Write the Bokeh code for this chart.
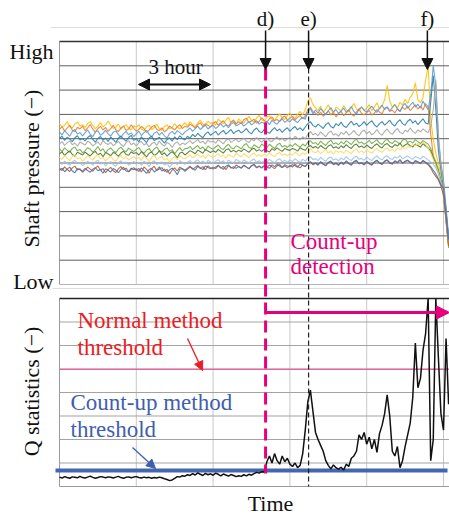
import numpy as np
from bokeh.plotting import figure
from bokeh.models import Range1d, Arrow, NormalHead, Label
from bokeh.embed import file_html
from bokeh.resources import INLINE

# ---------------- data ----------------
HOUR_TICKS = [0, 3, 6, 9, 12, 15]          # vertical grid, 3-hour spacing
PRESSURE_LEVELS = list(range(0, 11))       # Low (0) .. High (10)
Q_LEVELS = list(range(0, 9))
P_STEP = 0.1                                # hours between pressure samples
Q_STEP = 0.1                                # hours between Q samples
EVENT_D = 8.05                              # count-up detection
EVENT_E = 9.73
EVENT_F = 14.37
NORMAL_THRESHOLD = 4.98
COUNTUP_THRESHOLD = 0.68

PRESSURE_A = [6.62, 6.48, 6.55, 6.71, 6.50, 6.44, 6.60, 6.68, 6.52, 6.58,
              6.46, 6.63, 6.70, 6.55, 6.41, 6.52, 6.66, 6.49, 6.57, 6.73,
              6.55, 6.42, 6.48, 6.61, 6.39, 6.50, 6.58, 6.44, 6.36, 6.53,
              6.47, 6.58, 6.40, 6.33, 6.49, 6.56, 6.38, 6.45, 6.60, 6.42,
              6.35, 6.50, 6.57, 6.41, 6.46, 6.62, 6.48, 6.39, 6.55, 6.66,
              6.52, 6.70, 6.58, 6.49, 6.65, 6.77, 6.60, 6.54, 6.72, 6.63,
              6.68, 6.55, 6.80, 6.71, 6.62, 6.76, 6.88, 6.66, 6.74, 6.59,
              6.82, 6.70, 6.64, 6.79, 6.92, 6.75, 6.68, 6.85, 6.97, 6.78,
              6.72, 6.88, 6.95, 6.80, 6.74, 6.91, 7.02, 6.85, 6.79, 6.96,
              7.05, 6.90, 6.84, 7.00, 7.12, 6.98, 7.20, 7.55, 7.68, 7.40,
              7.28, 7.15, 7.34, 7.08, 7.22, 7.40, 7.18, 7.05, 7.30, 7.24,
              7.12, 7.36, 7.20, 7.10, 7.28, 7.45, 7.22, 7.14, 7.32, 7.18,
              7.26, 7.40, 7.15, 7.30, 7.48, 7.22, 7.35, 7.60, 8.20, 7.55,
              7.30, 7.42, 7.25, 7.50, 7.38, 7.62, 7.45, 7.70, 7.85, 8.30,
              7.60, 7.48, 7.70, 8.40, 9.00, 6.80, 6.00, 5.40, 5.00, 4.50,
              3.90, 2.90, 1.80]
PRESSURE_B = [6.38, 6.50, 6.31, 6.44, 6.56, 6.35, 6.28, 6.47, 6.40, 6.52,
              6.33, 6.45, 6.58, 6.39, 6.27, 6.42, 6.51, 6.36, 6.46, 6.30,
              6.41, 6.55, 6.37, 6.29, 6.44, 6.52, 6.34, 6.40, 6.57, 6.43,
              6.31, 6.38, 6.50, 6.42, 6.26, 6.35, 6.48, 6.55, 6.39, 6.33,
              6.45, 6.28, 6.37, 6.52, 6.44, 6.36, 6.49, 6.58, 6.42, 6.51,
              6.47, 6.60, 6.53, 6.44, 6.58, 6.66, 6.50, 6.62, 6.55, 6.48,
              6.63, 6.71, 6.56, 6.65, 6.74, 6.59, 6.52, 6.68, 6.77, 6.61,
              6.70, 6.62, 6.78, 6.84, 6.66, 6.73, 6.80, 6.64, 6.71, 6.86,
              6.75, 6.68, 6.82, 6.90, 6.74, 6.79, 6.70, 6.87, 6.93, 6.77,
              6.84, 6.92, 6.78, 6.88, 6.96, 6.82, 6.94, 7.20, 7.30, 7.12,
              7.05, 6.96, 7.10, 6.92, 7.02, 7.15, 6.98, 7.08, 6.90, 7.04,
              7.12, 6.95, 7.06, 7.18, 7.00, 6.93, 7.10, 7.22, 7.04, 6.98,
              7.08, 7.16, 6.97, 7.05, 7.20, 7.10, 7.02, 7.25, 7.30, 7.12,
              7.18, 7.06, 7.24, 7.12, 7.30, 7.20, 7.35, 7.15, 7.28, 7.40,
              7.22, 7.34, 7.18, 7.45, 7.30, 6.20, 5.30, 4.90, 4.60, 4.20,
              3.60, 2.60, 1.60]
PRESSURE_C = [6.28, 6.15, 6.33, 6.22, 6.10, 6.30, 6.38, 6.19, 6.25, 6.12,
              6.24, 6.36, 6.18, 6.08, 6.27, 6.33, 6.14, 6.22, 6.35, 6.20,
              6.11, 6.26, 6.32, 6.17, 6.05, 6.21, 6.30, 6.16, 6.24, 6.09,
              6.20, 6.31, 6.13, 6.25, 6.34, 6.18, 6.07, 6.23, 6.29, 6.15,
              6.26, 6.12, 6.02, 6.22, 6.30, 6.19, 6.33, 6.25, 6.16, 6.28,
              6.35, 6.44, 6.30, 6.41, 6.52, 6.38, 6.47, 6.56, 6.40, 6.49,
              6.55, 6.42, 6.51, 6.62, 6.48, 6.58, 6.45, 6.60, 6.67, 6.53,
              6.58, 6.66, 6.52, 6.61, 6.70, 6.57, 6.64, 6.74, 6.60, 6.68,
              6.63, 6.72, 6.58, 6.76, 6.66, 6.60, 6.73, 6.81, 6.67, 6.75,
              6.70, 6.82, 6.74, 6.66, 6.79, 6.88, 6.80, 7.10, 7.25, 7.02,
              7.18, 7.05, 7.24, 7.12, 6.98, 7.15, 7.28, 7.10, 7.20, 7.04,
              7.14, 7.26, 7.08, 7.20, 7.32, 7.12, 7.02, 7.22, 7.30, 7.16,
              7.10, 7.24, 7.34, 7.18, 7.08, 7.26, 7.38, 7.20, 7.30, 7.15,
              7.28, 7.40, 7.22, 7.12, 7.34, 7.45, 7.25, 7.38, 7.50, 7.30,
              7.42, 7.26, 7.55, 7.35, 7.20, 7.80, 9.00, 8.20, 6.00, 5.00,
              4.30, 3.20, 2.00]
PRESSURE_D = [6.02, 6.10, 5.93, 6.06, 5.98, 5.88, 6.04, 6.12, 5.95, 6.00,
              5.91, 6.05, 6.13, 5.97, 5.86, 6.01, 6.09, 5.94, 6.03, 5.89,
              6.07, 5.96, 5.85, 6.02, 6.11, 5.99, 5.90, 6.05, 6.14, 5.93,
              6.00, 5.87, 6.08, 5.95, 5.84, 6.03, 6.10, 5.92, 5.99, 6.06,
              5.94, 5.82, 5.97, 6.04, 5.90, 6.08, 5.96, 6.12, 6.01, 5.95,
              6.10, 6.02, 6.18, 6.08, 6.22, 6.12, 6.04, 6.20, 6.28, 6.14,
              6.22, 6.30, 6.15, 6.26, 6.34, 6.19, 6.28, 6.38, 6.21, 6.30,
              6.35, 6.24, 6.31, 6.42, 6.27, 6.20, 6.36, 6.44, 6.30, 6.25,
              6.38, 6.29, 6.22, 6.35, 6.46, 6.32, 6.40, 6.26, 6.37, 6.45,
              6.30, 6.42, 6.50, 6.36, 6.45, 6.33, 6.48, 6.62, 6.70, 6.55,
              6.48, 6.60, 6.52, 6.42, 6.58, 6.66, 6.50, 6.44, 6.62, 6.54,
              6.68, 6.52, 6.46, 6.60, 6.72, 6.56, 6.64, 6.50, 6.58, 6.70,
              6.55, 6.66, 6.74, 6.58, 6.48, 6.62, 6.70, 6.56, 6.65, 6.76,
              6.60, 6.52, 6.68, 6.78, 6.62, 6.55, 6.72, 6.80, 6.64, 6.74,
              6.58, 6.70, 6.82, 6.65, 6.60, 7.50, 8.60, 7.20, 5.50, 4.70,
              4.00, 3.00, 1.90]
PRESSURE_E = [5.78, 5.88, 5.72, 5.84, 5.91, 5.75, 5.82, 5.69, 5.86, 5.80,
              5.74, 5.90, 5.83, 5.70, 5.79, 5.87, 5.73, 5.93, 5.81, 5.76,
              5.85, 5.71, 5.80, 5.89, 5.77, 5.68, 5.84, 5.92, 5.75, 5.82,
              5.70, 5.83, 5.88, 5.74, 5.81, 5.66, 5.79, 5.86, 5.72, 5.90,
              5.77, 5.69, 5.85, 5.78, 5.64, 5.80, 5.87, 5.73, 5.82, 5.76,
              5.84, 5.92, 5.80, 5.88, 5.97, 5.83, 5.90, 5.78, 5.94, 5.86,
              5.91, 5.82, 5.96, 5.88, 5.79, 5.93, 6.00, 5.85, 5.92, 5.98,
              5.87, 5.95, 6.02, 5.90, 5.84, 5.98, 5.91, 6.05, 5.93, 5.86,
              5.96, 6.04, 5.92, 5.88, 6.00, 6.08, 5.94, 6.02, 5.90, 5.99,
              6.05, 5.95, 6.10, 6.02, 5.96, 6.08, 6.00, 6.18, 6.30, 6.16,
              6.22, 6.12, 6.28, 6.18, 6.08, 6.24, 6.32, 6.15, 6.20, 6.10,
              6.26, 6.18, 6.30, 6.14, 6.22, 6.34, 6.20, 6.12, 6.28, 6.36,
              6.20, 6.30, 6.16, 6.24, 6.38, 6.22, 6.14, 6.30, 6.40, 6.25,
              6.18, 6.32, 6.42, 6.26, 6.20, 6.35, 6.28, 6.44, 6.30, 6.22,
              6.36, 6.28, 6.40, 6.32, 6.25, 6.50, 7.20, 8.40, 6.20, 4.90,
              4.20, 3.00, 1.70]
PRESSURE_F = [5.58, 5.47, 5.62, 5.53, 5.44, 5.60, 5.66, 5.50, 5.56, 5.42,
              5.51, 5.63, 5.57, 5.45, 5.54, 5.68, 5.49, 5.59, 5.41, 5.55,
              5.62, 5.50, 5.43, 5.57, 5.65, 5.52, 5.46, 5.61, 5.54, 5.48,
              5.56, 5.64, 5.49, 5.40, 5.53, 5.60, 5.45, 5.58, 5.66, 5.51,
              5.44, 5.57, 5.62, 5.48, 5.55, 5.38, 5.52, 5.63, 5.50, 5.59,
              5.60, 5.68, 5.55, 5.64, 5.72, 5.58, 5.66, 5.52, 5.70, 5.62,
              5.57, 5.66, 5.74, 5.61, 5.55, 5.69, 5.77, 5.63, 5.58, 5.71,
              5.66, 5.58, 5.73, 5.80, 5.64, 5.60, 5.75, 5.68, 5.62, 5.78,
              5.70, 5.63, 5.77, 5.68, 5.59, 5.74, 5.82, 5.66, 5.72, 5.64,
              5.75, 5.68, 5.80, 5.72, 5.65, 5.78, 5.70, 5.86, 5.92, 5.80,
              5.84, 5.74, 5.90, 5.80, 5.72, 5.86, 5.94, 5.78, 5.83, 5.75,
              5.88, 5.79, 5.92, 5.84, 5.76, 5.90, 5.98, 5.82, 5.86, 5.77,
              5.84, 5.93, 5.80, 5.88, 5.96, 5.82, 5.76, 5.90, 5.98, 5.85,
              5.80, 5.92, 5.86, 5.78, 5.94, 6.00, 5.84, 5.90, 5.82, 5.96,
              5.88, 5.80, 5.92, 5.85, 5.78, 5.60, 5.30, 5.05, 4.75, 4.30,
              3.70, 2.60, 1.50]
PRESSURE_G = [5.38, 5.46, 5.31, 5.42, 5.50, 5.35, 5.28, 5.44, 5.39, 5.33,
              5.45, 5.36, 5.29, 5.41, 5.48, 5.34, 5.40, 5.26, 5.43, 5.37,
              5.30, 5.44, 5.38, 5.27, 5.41, 5.49, 5.35, 5.32, 5.46, 5.39,
              5.43, 5.33, 5.47, 5.36, 5.25, 5.40, 5.45, 5.31, 5.38, 5.50,
              5.34, 5.42, 5.28, 5.39, 5.47, 5.36, 5.22, 5.41, 5.44, 5.33,
              5.42, 5.51, 5.45, 5.38, 5.53, 5.47, 5.40, 5.55, 5.49, 5.43,
              5.50, 5.44, 5.56, 5.48, 5.41, 5.54, 5.59, 5.46, 5.52, 5.45,
              5.53, 5.47, 5.58, 5.51, 5.44, 5.56, 5.61, 5.49, 5.55, 5.48,
              5.57, 5.50, 5.45, 5.59, 5.52, 5.62, 5.54, 5.48, 5.60, 5.55,
              5.52, 5.60, 5.56, 5.49, 5.63, 5.57, 5.52, 5.66, 5.72, 5.62,
              5.68, 5.60, 5.72, 5.64, 5.57, 5.70, 5.75, 5.62, 5.67, 5.59,
              5.71, 5.63, 5.76, 5.66, 5.60, 5.73, 5.78, 5.65, 5.70, 5.62,
              5.74, 5.66, 5.60, 5.72, 5.79, 5.68, 5.62, 5.75, 5.80, 5.69,
              5.64, 5.76, 5.70, 5.82, 5.67, 5.74, 5.80, 5.71, 5.66, 5.78,
              5.72, 5.65, 5.80, 5.70, 5.62, 5.50, 5.20, 4.95, 4.65, 4.25,
              3.80, 2.70, 1.60]
PRESSURE_H = [5.24, 5.15, 5.30, 5.19, 5.11, 5.27, 5.33, 5.17, 5.22, 5.09,
              5.18, 5.29, 5.21, 5.12, 5.26, 5.34, 5.16, 5.23, 5.08, 5.20,
              5.28, 5.14, 5.07, 5.22, 5.31, 5.18, 5.25, 5.13, 5.19, 5.27,
              5.16, 5.23, 5.10, 5.29, 5.20, 5.05, 5.24, 5.32, 5.15, 5.21,
              5.27, 5.12, 5.20, 5.03, 5.18, 5.26, 5.14, 5.30, 5.22, 5.17,
              5.25, 5.33, 5.21, 5.29, 5.37, 5.24, 5.31, 5.19, 5.35, 5.28,
              5.22, 5.31, 5.38, 5.26, 5.33, 5.20, 5.36, 5.29, 5.24, 5.40,
              5.32, 5.25, 5.39, 5.30, 5.22, 5.35, 5.42, 5.28, 5.34, 5.27,
              5.36, 5.29, 5.41, 5.33, 5.26, 5.38, 5.44, 5.31, 5.37, 5.30,
              5.39, 5.32, 5.45, 5.36, 5.30, 5.42, 5.35, 5.50, 5.58, 5.46,
              5.42, 5.52, 5.38, 5.47, 5.55, 5.40, 5.49, 5.36, 5.51, 5.44,
              5.48, 5.40, 5.54, 5.45, 5.38, 5.52, 5.58, 5.43, 5.50, 5.41,
              5.55, 5.46, 5.40, 5.53, 5.60, 5.48, 5.44, 5.57, 5.62, 5.50,
              5.56, 5.48, 5.62, 5.54, 5.66, 5.58, 5.70, 5.64, 5.76, 5.72,
              5.80, 5.74, 5.85, 5.78, 5.60, 5.40, 5.15, 4.90, 4.60, 4.20,
              3.70, 2.70, 1.65]
PRESSURE_I = [5.02, 4.94, 5.08, 4.98, 4.91, 5.05, 5.11, 4.96, 5.01, 4.89,
              4.97, 5.07, 5.00, 4.92, 5.04, 5.12, 4.95, 5.03, 4.88, 4.99,
              5.06, 4.93, 4.87, 5.01, 5.09, 4.97, 5.04, 4.91, 4.98, 5.07,
              4.95, 5.03, 4.90, 5.08, 4.99, 4.85, 5.02, 5.10, 4.94, 5.00,
              5.05, 4.92, 4.99, 4.83, 4.96, 5.04, 4.93, 5.09, 5.01, 4.95,
              5.03, 5.10, 4.98, 5.06, 5.13, 5.01, 5.08, 4.96, 5.11, 5.04,
              4.99, 5.07, 5.14, 5.02, 5.09, 4.97, 5.12, 5.05, 5.00, 5.15,
              5.08, 5.01, 5.13, 5.06, 4.99, 5.11, 5.16, 5.03, 5.09, 5.02,
              5.10, 5.04, 5.15, 5.07, 5.00, 5.12, 5.17, 5.05, 5.11, 5.03,
              5.13, 5.06, 5.18, 5.09, 5.03, 5.15, 5.08, 5.20, 5.26, 5.14,
              5.18, 5.10, 5.23, 5.14, 5.07, 5.20, 5.25, 5.12, 5.17, 5.09,
              5.21, 5.13, 5.26, 5.16, 5.10, 5.23, 5.28, 5.15, 5.19, 5.11,
              5.24, 5.16, 5.10, 5.22, 5.29, 5.18, 5.13, 5.25, 5.30, 5.19,
              5.14, 5.26, 5.20, 5.31, 5.17, 5.24, 5.29, 5.21, 5.15, 5.27,
              5.22, 5.16, 5.28, 5.20, 5.12, 5.05, 4.95, 4.80, 4.55, 4.20,
              3.85, 2.80, 1.75]
PRESSURE_J = [4.78, 4.69, 4.84, 4.73, 4.65, 4.80, 4.87, 4.71, 4.76, 4.62,
              4.72, 4.83, 4.75, 4.66, 4.79, 4.88, 4.70, 4.77, 4.60, 4.74,
              4.82, 4.68, 4.61, 4.76, 4.85, 4.72, 4.79, 4.64, 4.73, 4.81,
              4.70, 4.78, 4.63, 4.84, 4.74, 4.58, 4.77, 4.86, 4.69, 4.75,
              4.81, 4.66, 4.74, 4.55, 4.71, 4.80, 4.67, 4.83, 4.76, 4.70,
              4.79, 4.87, 4.74, 4.82, 4.90, 4.77, 4.85, 4.72, 4.88, 4.81,
              4.75, 4.84, 4.91, 4.79, 4.86, 4.73, 4.89, 4.82, 4.77, 4.92,
              4.85, 4.78, 4.90, 4.83, 4.76, 4.88, 4.93, 4.80, 4.86, 4.79,
              4.87, 4.81, 4.92, 4.84, 4.77, 4.89, 4.94, 4.82, 4.88, 4.80,
              4.90, 4.83, 4.95, 4.86, 4.80, 4.92, 4.85, 4.97, 5.04, 4.93,
              4.99, 4.91, 5.04, 4.95, 4.88, 5.01, 5.06, 4.93, 4.98, 4.90,
              5.02, 4.94, 5.07, 4.97, 4.91, 5.04, 5.09, 4.96, 5.00, 4.92,
              5.05, 4.97, 4.91, 5.03, 5.10, 4.99, 4.94, 5.06, 5.11, 5.00,
              4.95, 5.07, 5.01, 5.12, 4.98, 5.05, 5.10, 5.02, 4.96, 5.08,
              5.03, 4.97, 5.09, 5.01, 4.93, 4.80, 4.60, 4.45, 4.30, 4.05,
              3.70, 2.70, 1.60]
PRESSURE_K = [4.70, 4.79, 4.64, 4.75, 4.83, 4.67, 4.60, 4.77, 4.72, 4.66,
              4.78, 4.69, 4.62, 4.74, 4.81, 4.68, 4.73, 4.58, 4.76, 4.70,
              4.63, 4.77, 4.71, 4.60, 4.74, 4.82, 4.67, 4.64, 4.79, 4.72,
              4.76, 4.65, 4.80, 4.69, 4.57, 4.73, 4.78, 4.63, 4.71, 4.84,
              4.67, 4.75, 4.61, 4.72, 4.79, 4.68, 4.52, 4.74, 4.77, 4.66,
              4.75, 4.83, 4.78, 4.70, 4.86, 4.80, 4.73, 4.88, 4.81, 4.76,
              4.83, 4.77, 4.89, 4.81, 4.74, 4.87, 4.92, 4.79, 4.85, 4.78,
              4.86, 4.80, 4.91, 4.84, 4.77, 4.89, 4.94, 4.82, 4.88, 4.81,
              4.90, 4.83, 4.78, 4.92, 4.85, 4.95, 4.87, 4.81, 4.93, 4.88,
              4.85, 4.93, 4.89, 4.82, 4.96, 4.90, 4.86, 4.99, 5.05, 4.95,
              5.01, 4.93, 5.05, 4.97, 4.90, 5.03, 5.08, 4.95, 5.00, 4.92,
              5.04, 4.96, 5.09, 4.99, 4.93, 5.06, 5.11, 4.98, 5.02, 4.94,
              5.07, 4.99, 4.93, 5.05, 5.12, 5.01, 4.96, 5.08, 5.13, 5.02,
              4.97, 5.09, 5.03, 5.14, 5.00, 5.07, 5.12, 5.04, 4.98, 5.10,
              5.05, 4.99, 5.11, 5.03, 4.96, 4.85, 4.70, 4.55, 4.35, 4.10,
              3.95, 2.90, 1.85]

Q_STAT = [0.40, 0.36, 0.42, 0.38, 0.35, 0.41, 0.39, 0.37, 0.43, 0.38,
          0.36, 0.40, 0.44, 0.39, 0.35, 0.38, 0.42, 0.40, 0.37, 0.41,
          0.39, 0.36, 0.40, 0.43, 0.38, 0.35, 0.39, 0.41, 0.37, 0.40,
          0.42, 0.38, 0.36, 0.40, 0.37, 0.39, 0.35, 0.38, 0.36, 0.40,
          0.37, 0.33, 0.30, 0.25, 0.28, 0.35, 0.42, 0.40, 0.46, 0.44,
          0.50, 0.47, 0.55, 0.49, 0.58, 0.52, 0.47, 0.56, 0.50, 0.54,
          0.48, 0.57, 0.52, 0.45, 0.53, 0.49, 0.44, 0.51, 0.47, 0.42,
          0.46, 0.43, 0.50, 0.45, 0.52, 0.48, 0.55, 0.60, 0.57, 0.63,
          0.62, 1.05, 1.30, 1.00, 1.40, 1.10, 0.95, 1.30, 1.05, 1.20,
          0.95, 0.85, 1.00, 0.80, 0.90, 1.40, 2.40, 3.60, 4.10, 3.20,
          2.30, 2.00, 1.75, 1.50, 1.10, 0.90, 0.75, 0.92, 0.80, 0.74,
          0.82, 0.70, 0.95, 0.85, 1.20, 1.30, 1.50, 2.20, 2.00, 2.30,
          1.80, 2.10, 1.60, 2.00, 1.45, 2.25, 2.60, 3.10, 3.90, 3.00,
          1.50, 1.30, 1.70, 0.80, 1.10, 1.70, 2.20, 2.70, 3.80, 6.10,
          4.20, 4.60, 5.80, 6.50, 8.00, 1.10, 2.00, 8.00, 5.50, 3.10,
          2.40, 6.30, 3.50]

PRESSURE_SERIES = [PRESSURE_A, PRESSURE_B, PRESSURE_C, PRESSURE_D, PRESSURE_E, PRESSURE_F,
                   PRESSURE_G, PRESSURE_H, PRESSURE_I, PRESSURE_J, PRESSURE_K]
SERIES_COLORS = ["#FFC000", "#ED7D31", "#5B9BD5", "#2A7FA8", "#A5A5A5", "#70AD47",
                 "#4E7A27", "#FFD966", "#9DC3E6", "#C55A11", "#4472C4"]

# ---------------- layout geometry (pixels of the 449x514 page) ----------------
W, H = 449, 514
X0, PXH = 59, 25.6            # left edge of panels, pixels per hour
PY_TOP, PY_BOT = 41, 284      # pressure panel: High / Low
QY_TOP, QY_BOT = 298, 486     # Q panel: top / bottom
PPU = (PY_BOT - PY_TOP) / 10.0
QPU = (QY_BOT - QY_TOP) / 8.0

def tx(px):
    return (px - X0) / PXH

def py(px):
    return 10.0 - (px - PY_TOP) / PPU

def qy(px):
    return (QY_BOT - px) / QPU

FONT = "'Liberation Serif', serif"
INK = "#111111"

p = figure(width=W, height=H, output_backend="svg", toolbar_location=None,
           x_range=Range1d(tx(0), tx(W)), y_range=Range1d(py(H), py(0)),
           x_axis_location=None, y_axis_location=None, min_border=0,
           background_fill_color="white", border_fill_color="white")
p.extra_y_ranges = {"q": Range1d(qy(H), qy(0))}
p.outline_line_color = None
p.grid.visible = False

t_end = tx(W)


def label(xpx, ymid_px, text, size, color=INK, align="left", angle=0.0):
    p.add_layout(Label(x=tx(xpx), y=py(ymid_px), text=text, text_font=FONT,
                       text_font_size=f"{size}px", text_align=align,
                       text_baseline="middle", text_color=color, angle=angle))


# faint chart-area lines
p.segment(x0=[tx(50), tx(52)], y0=[py(27), py(288)], x1=[t_end, t_end], y1=[py(27), py(288)],
          line_color="#dedede", line_width=1)

# ---- pressure panel frame & grid ----
p.segment(x0=HOUR_TICKS[1:], y0=[0] * 5, x1=HOUR_TICKS[1:], y1=[10] * 5,
          line_color="#c8c8c8", line_width=1)
p.segment(x0=[0], y0=[0], x1=[0], y1=[10], line_color="#9a9a9a", line_width=1)
mid = PRESSURE_LEVELS[1:-1]
p.segment(x0=[0] * len(mid), y0=mid, x1=[t_end] * len(mid), y1=mid,
          line_color="#5e5e5e", line_width=1)
p.segment(x0=[0], y0=[10], x1=[t_end], y1=[10], line_color="#333333", line_width=1.6)
p.segment(x0=[0], y0=[0], x1=[t_end], y1=[0], line_color="#b5b5b5", line_width=1)

# ---- Q panel frame & grid ----
p.segment(x0=HOUR_TICKS[1:], y0=[0] * 5, x1=HOUR_TICKS[1:], y1=[8] * 5,
          line_color="#c8c8c8", line_width=1, y_range_name="q")
p.segment(x0=[0], y0=[0], x1=[0], y1=[8], line_color="#9a9a9a", line_width=1, y_range_name="q")
qmid = Q_LEVELS[1:-1]
p.segment(x0=[0] * len(qmid), y0=qmid, x1=[t_end] * len(qmid), y1=qmid,
          line_color="#a3a3a3", line_width=1, y_range_name="q")
p.segment(x0=[0], y0=[8], x1=[t_end], y1=[8], line_color="#222222", line_width=1.5, y_range_name="q")
p.segment(x0=[0], y0=[0], x1=[t_end], y1=[0], line_color="#9a9a9a", line_width=1, y_range_name="q")

# ---- pressure lines ----
for vals, col in zip(PRESSURE_SERIES, SERIES_COLORS):
    tt = np.arange(len(vals)) * P_STEP
    p.line(tt, vals, line_color=col, line_width=1.1, line_alpha=0.9)

# ---- thresholds and Q statistic ----
p.segment(x0=[0], y0=[NORMAL_THRESHOLD], x1=[t_end], y1=[NORMAL_THRESHOLD],
          line_color="#f0609a", line_width=1.2, y_range_name="q")
p.segment(x0=[tx(55)], y0=[COUNTUP_THRESHOLD], x1=[tx(447)], y1=[COUNTUP_THRESHOLD],
          line_color="#4466b0", line_width=4, y_range_name="q")
tq = np.arange(len(Q_STAT)) * Q_STEP
p.line(tq, Q_STAT, line_color=INK, line_width=1.5, y_range_name="q")

# ---- event markers ----
PINK = "#e6007e"
p.segment(x0=[EVENT_D], y0=[py(68)], x1=[EVENT_D], y1=[py(473)],
          line_color=PINK, line_width=3, line_dash="12 6")
p.segment(x0=[EVENT_E], y0=[py(68)], x1=[EVENT_E], y1=[py(486)],
          line_color="#222222", line_width=1.2, line_dash="5 3")
p.add_layout(Arrow(x_start=EVENT_D, y_start=qy(312), x_end=tx(449), y_end=qy(312),
                   line_color=PINK, line_width=3, y_range_name="q",
                   end=NormalHead(size=13, fill_color=PINK, line_color=PINK)))

for ev, name in [(EVENT_D, "d)"), (EVENT_E, "e)"), (EVENT_F, "f)")]:
    p.add_layout(Arrow(x_start=ev, y_start=py(30), x_end=ev, y_end=py(69),
                       line_color=INK, line_width=1.5,
                       end=NormalHead(size=11, fill_color=INK, line_color=INK)))
    p.add_layout(Label(x=ev, y=py(18.5), text=name, text_font=FONT, text_font_size="21px",
                       text_align="center", text_baseline="middle", text_color=INK))

# 3 hour span
p.add_layout(Arrow(x_start=tx(138), y_start=py(84), x_end=tx(210), y_end=py(84),
                   line_color=INK, line_width=2,
                   start=NormalHead(size=11, fill_color=INK, line_color=INK),
                   end=NormalHead(size=11, fill_color=INK, line_color=INK)))
label(175, 66, "3 hour", 21, align="center")

# axis words
label(53, 50.5, "High", 22, align="right")
label(53, 281, "Low", 22, align="right")
label(31, 168, "Shaft pressure (\u2212)", 22, align="center", angle=np.pi / 2)
label(31, 391, "Q statistics (\u2212)", 22, align="center", angle=np.pi / 2)
label(270, 502.5, "Time", 22, align="center")

# annotations
RED = "#ec1c24"
BLUE = "#3f5fae"
label(77, 320, "Normal method", 23, RED)
label(77, 347, "threshold", 23, RED)
p.add_layout(Arrow(x_start=tx(187), y_start=py(338), x_end=tx(202), y_end=py(370),
                   line_color=RED, line_width=1.3,
                   end=NormalHead(size=9, fill_color=RED, line_color=RED)))
label(70, 402, "Count-up method", 23, BLUE)
label(70, 429, "threshold", 23, BLUE)
p.add_layout(Arrow(x_start=tx(132), y_start=py(447), x_end=tx(155), y_end=py(468),
                   line_color=BLUE, line_width=1.3,
                   end=NormalHead(size=9, fill_color=BLUE, line_color=BLUE)))
label(290, 241, "Count-up", 23, PINK)
label(290, 266, "detection", 23, PINK)

open("out.html", "w").write(file_html(p, INLINE))
